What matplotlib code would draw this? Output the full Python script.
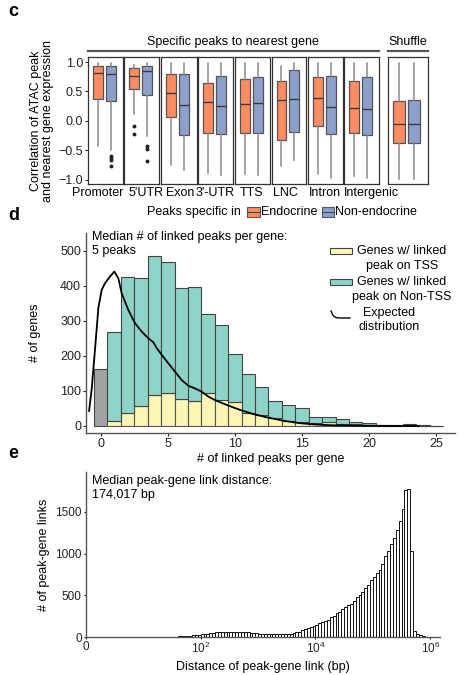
import matplotlib
matplotlib.use('Agg')
import numpy as np
import matplotlib.pyplot as plt
from matplotlib.patches import Rectangle
from matplotlib.lines import Line2D

plt.rcParams['font.family'] = ['Liberation Sans', 'DejaVu Sans']
plt.rcParams['font.size'] = 9
plt.rcParams['mathtext.fontset'] = 'custom'
plt.rcParams['mathtext.rm'] = 'Liberation Sans'

# ---- panel c data: box summaries (Endocrine / Non-endocrine) ----
categories = ['Promoter', "5'UTR", 'Exon', "3'-UTR", 'TTS', 'LNC', 'Intron', 'Intergenic', 'Shuffle']
endo_hi = [0.99, 0.95, 0.99, 0.99, 0.99, 0.93, 0.99, 0.99, 0.99]
endo_q3 = [0.93, 0.90, 0.80, 0.64, 0.72, 0.67, 0.74, 0.68, 0.34]
endo_med = [0.82, 0.76, 0.47, 0.32, 0.29, 0.35, 0.39, 0.22, -0.05]
endo_q1 = [0.38, 0.55, 0.07, -0.20, -0.20, -0.33, -0.08, -0.20, -0.37]
endo_lo = [-0.43, 0.11, -0.75, -0.88, -0.90, -0.77, -0.90, -0.93, -0.98]
endo_fliers = [[], [-0.09, -0.23], [], [], [], [], [], [], []]

non_hi = [0.99, 0.99, 0.99, 0.99, 0.99, 0.99, 0.99, 0.99, 0.99]
non_q3 = [0.94, 0.94, 0.80, 0.77, 0.75, 0.86, 0.77, 0.74, 0.36]
non_med = [0.80, 0.85, 0.27, 0.25, 0.31, 0.38, 0.24, 0.20, -0.05]
non_q1 = [0.33, 0.44, -0.24, -0.23, -0.21, -0.19, -0.22, -0.24, -0.37]
non_lo = [-0.49, -0.26, -0.84, -0.92, -0.91, -0.66, -0.97, -0.97, -0.99]
non_fliers = [[-0.60, -0.63, -0.66, -0.76], [-0.43, -0.47, -0.68], [], [], [], [], [], [], []]

# ---- panel d data ----
zero_count = 163
n_linked = list(range(1, 26))
tss_counts = [15, 38, 57, 88, 95, 77, 72, 93, 73, 68, 38, 31, 22, 15, 12, 8, 10, 6, 5, 3, 1, 1, 4, 1, 0]
total_counts = [268, 424, 422, 485, 468, 393, 395, 319, 287, 206, 147, 111, 71, 61, 51, 25, 27, 19, 12, 8, 3, 2, 5, 2, 1]
curve_x = [-0.87, -0.67, -0.42, -0.18, 0.07, 0.32, 0.69, 1.01, 1.31, 1.56, 2.05, 2.55, 3.05, 3.54,
           3.91, 4.17, 4.54, 5.03, 5.53, 6.03, 6.52, 7.02, 7.51, 8.01, 8.5, 9.38, 10.37, 11.36,
           12.35, 13.6, 14.83, 16.07, 17.3, 19.8, 23.7]
curve_y = [43, 107, 222, 336, 388, 407, 426, 440, 421, 378, 331, 293, 269, 250, 239, 222, 203,
           179, 155, 131, 115, 107, 98, 84, 74, 60, 46, 34, 25, 15, 8, 4, 2, 0.5, 0]

# ---- panel e data: counts in log10(distance) bins of 0.05 from 0 to 6 ----
log_bin_start = 0.0
log_bin_width = 0.05
link_counts = [
    0, 0, 1, 0, 0, 1, 0, 0, 0, 1, 0, 0, 1, 0, 0, 1, 0, 1, 0, 1,
    1, 0, 1, 1, 2, 1, 2, 2, 3, 4, 5, 6, 8, 10, 12, 14, 16, 20, 24, 28,
    32, 36, 42, 48, 52, 55, 57, 60, 62, 63, 64, 64, 62, 61, 59, 57, 55, 52, 48, 45,
    42, 40, 37, 35, 34, 33, 32, 32, 33, 35, 38, 42, 48, 56, 66, 80, 92, 107, 120, 135,
    148, 165, 180, 195, 210, 240, 250, 285, 305, 340, 355, 380, 395, 430, 485, 510, 545, 585, 625, 685,
    725, 765, 810, 880, 970, 1035, 1120, 1185, 1285, 1390, 1540, 1760, 1780, 1035, 67, 40, 20, 10, 5, 3,
]

orange = '#FC8D62'
blue = '#8DA0CB'
yellow = '#FBF6B6'
green = '#8DD3C7'
grey = '#A3A3A3'

W, H = 460, 675
fig = plt.figure(figsize=(W / 100, H / 100), dpi=100)


def box(l, t, r, b):
    return [l / W, 1 - b / H, (r - l) / W, (b - t) / H]


def fx(x):
    return x / W


def fy(y):
    return 1 - y / H


# panel letters
for letter, y in [('c', 12), ('d', 215), ('e', 453)]:
    fig.text(fx(8), fy(y), letter, fontsize=13, fontweight='bold', va='center', ha='left')

# ---- panel c ----
panel_edges = [(88, 123), (124, 159), (161, 197), (198, 233), (235, 270),
               (272, 306), (308, 343), (344, 379), (388, 428)]
for i, (l, r) in enumerate(panel_edges):
    ax = fig.add_axes(box(l, 57, r, 184))
    stats = [dict(med=endo_med[i], q1=endo_q1[i], q3=endo_q3[i], whislo=endo_lo[i],
                  whishi=endo_hi[i], fliers=endo_fliers[i]),
             dict(med=non_med[i], q1=non_q1[i], q3=non_q3[i], whislo=non_lo[i],
                  whishi=non_hi[i], fliers=non_fliers[i])]
    bp = ax.bxp(stats, positions=[1, 2], widths=0.75, patch_artist=True, showcaps=False,
                boxprops=dict(linewidth=0.9, edgecolor='#555555'),
                whiskerprops=dict(color='#8a8a8a', linewidth=1.1),
                medianprops=dict(color='#3a3a3a', linewidth=1.0),
                flierprops=dict(marker='o', markersize=1.8, markerfacecolor='#222222',
                                markeredgecolor='#222222'))
    for patch, c in zip(bp['boxes'], [orange, blue]):
        patch.set_facecolor(c)
    ax.set_xlim(0.27, 2.93)
    ax.set_ylim(-1.07, 1.085)
    ax.set_xticks([])
    if i == 0:
        ax.set_yticks([-1, -0.5, 0, 0.5, 1])
        ax.set_yticklabels(['\u22121.0', '\u22120.5', '0.0', '0.5', '1.0'])
        ax.tick_params(axis='y', length=2.5, width=0.8, pad=1, labelsize=9, colors='#222222')
        ax.set_ylabel('Correlation of ATAC peak\nand nearest gene expression', fontsize=9,
                      labelpad=3, linespacing=1.0)
    else:
        ax.set_yticks([])
    for sp in ax.spines.values():
        sp.set_color('#333333')
        sp.set_linewidth(0.9)

cat_label_x = [98, 146, 180, 215, 252, 285, 325, 371]
for name, x in zip(categories[:8], cat_label_x):
    fig.text(fx(x), fy(193), name, ha='center', va='center', fontsize=9)

fig.add_artist(Line2D([fx(88), fx(379)], [fy(51), fy(51)], color='#555555', lw=1.6))
fig.add_artist(Line2D([fx(388), fx(428)], [fy(51), fy(51)], color='#555555', lw=1.6))
fig.text(fx(233), fy(42), 'Specific peaks to nearest gene', ha='center', va='center', fontsize=9)
fig.text(fx(408), fy(42), 'Shuffle', ha='center', va='center', fontsize=9)

fig.text(fx(147), fy(212), 'Peaks specific in', ha='left', va='center', fontsize=9)
for (l, r), c, lab in [((247, 260), orange, 'Endocrine'), ((322, 334), blue, 'Non-endocrine')]:
    fig.add_artist(Rectangle((fx(l), fy(217)), fx(r - l), (217 - 207) / H, transform=fig.transFigure,
                             facecolor=c, edgecolor='#555555', lw=0.8))
    fig.add_artist(Line2D([fx(l), fx(r)], [fy(212), fy(212)], color='#444444', lw=0.8))
    fig.text(fx(r + 1), fy(212), lab, ha='left', va='center', fontsize=9)

# ---- panel d ----
axd = fig.add_axes(box(86, 233, 455, 433))
axd.bar([0], [zero_count], width=1, color=grey, edgecolor='#444444', lw=0.8)
non_tss = [t - s for t, s in zip(total_counts, tss_counts)]
axd.bar(n_linked, tss_counts, width=1, color=yellow, edgecolor='#555555', lw=0.8)
axd.bar(n_linked, non_tss, bottom=tss_counts, width=1, color=green, edgecolor='#444444', lw=0.8)
axd.plot(curve_x, curve_y, color='black', lw=1.3)
axd.set_xlim(-1.1, 26.4)
axd.set_ylim(-20, 550)
axd.set_xticks([0, 5, 10, 15, 20, 25])
axd.set_yticks([0, 100, 200, 300, 400, 500])
axd.tick_params(length=2, width=0.8, colors='#222222', labelsize=9, pad=1.5)
for s in ['top', 'right']:
    axd.spines[s].set_visible(False)
for s in ['left', 'bottom']:
    axd.spines[s].set_color('#555555')
    axd.spines[s].set_linewidth(1.0)
axd.set_ylabel('# of genes', fontsize=9, labelpad=14)
axd.set_xlabel('# of linked peaks per gene', fontsize=9, labelpad=2)
fig.text(fx(92), fy(244), 'Median # of linked peaks per gene:\n5 peaks', ha='left', va='center',
         fontsize=9, linespacing=1.25)

# legend d
for (t, b), c, lines in [((248, 254), yellow, ('Genes w/ linked', 'peak on TSS')),
                         ((279, 285), green, ('Genes w/ linked', 'peak on Non-TSS'))]:
    fig.add_artist(Rectangle((fx(330), fy(b)), fx(22), (b - t) / H, transform=fig.transFigure,
                             facecolor=c, edgecolor='#444444', lw=0.8))
    fig.text(fx(402), fy(t + 3), lines[0], ha='center', va='center', fontsize=9)
    fig.text(fx(402), fy(t + 18), lines[1], ha='center', va='center', fontsize=9)
gx = [331, 332.5, 334.5, 337, 341, 350]
gy = [311, 314.5, 316.8, 317.8, 318, 318]
fig.add_artist(Line2D([fx(v) for v in gx], [fy(v) for v in gy], color='black', lw=1.0))
fig.text(fx(389), fy(313), 'Expected', ha='center', va='center', fontsize=9)
fig.text(fx(389), fy(327), 'distribution', ha='center', va='center', fontsize=9)

# ---- panel e ----
axe = fig.add_axes(box(86, 472, 440, 637))
edges = log_bin_start + log_bin_width * np.arange(len(link_counts))
axe.bar(edges, link_counts, width=log_bin_width, align='edge', color='white',
        edgecolor='#111111', lw=0.7)
axe.set_xlim(0, 6.17)
axe.set_ylim(0, 1980)
axe.set_xticks([0, 2, 4, 6])
axe.set_xticklabels(['0', r'$\mathregular{10^{2}}$', r'$\mathregular{10^{4}}$', r'$\mathregular{10^{6}}$'])
axe.set_yticks([0, 500, 1000, 1500])
axe.tick_params(length=1.5, width=0.8, colors='#222222', labelsize=8.5, pad=1.5)
for s in ['top', 'right']:
    axe.spines[s].set_visible(False)
for s in ['left', 'bottom']:
    axe.spines[s].set_color('#555555')
    axe.spines[s].set_linewidth(1.0)
axe.set_ylabel('# of peak-gene links', fontsize=9, labelpad=4)
axe.set_xlabel('Distance of peak-gene link (bp)', fontsize=9, labelpad=3)
fig.text(fx(92), fy(488), 'Median peak-gene link distance:\n174,017 bp', ha='left', va='center',
         fontsize=9, linespacing=1.25)

fig.savefig('out.png', dpi=100)
